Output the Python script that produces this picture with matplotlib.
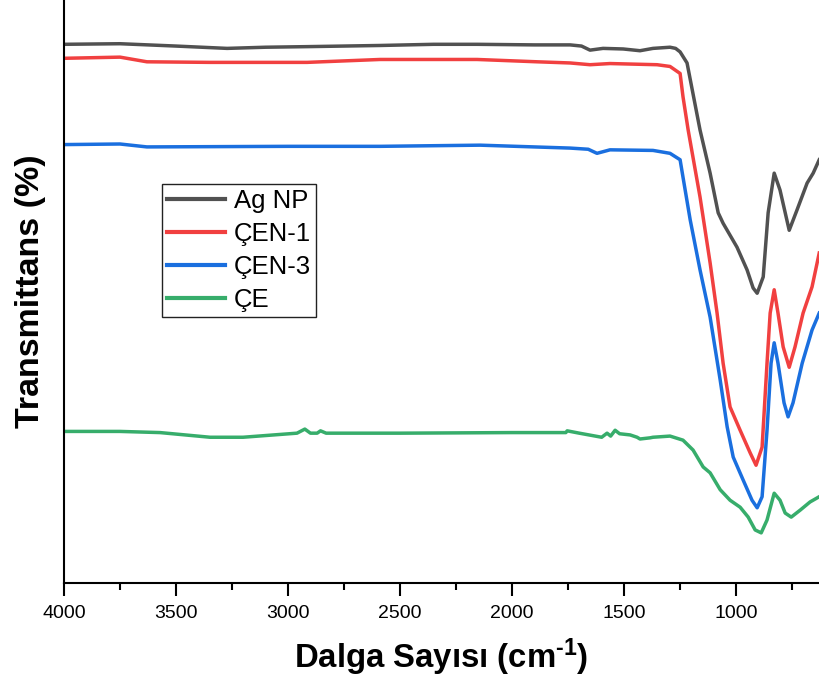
import matplotlib
matplotlib.use("Agg")
import matplotlib.pyplot as plt
from matplotlib.ticker import MultipleLocator

plt.rcParams['font.family'] = ['Liberation Sans', 'DejaVu Sans']
plt.rcParams['mathtext.fontset'] = 'custom'
plt.rcParams['mathtext.rm'] = 'Liberation Sans:bold'
plt.rcParams['mathtext.bf'] = 'Liberation Sans:bold'
plt.rcParams['mathtext.default'] = 'rm'

labels = ["Ag NP", "ÇEN-1", "ÇEN-3", "ÇE"]
colors = ["#515151", "#F14040", "#1A6FDF", "#37AD6B"]

ag_wn = [4000, 3750, 3500, 3272, 3100, 2915, 2589, 2350, 2156, 1900, 1741, 1690, 1652, 1594,
         1504, 1429, 1371, 1295, 1270, 1250, 1219, 1161, 1116, 1080, 1058, 996, 951, 924, 906,
         879, 857, 830, 804, 763, 728, 683, 656, 629]
ag_t = [92.4, 92.5, 92.1, 91.7, 91.9, 92.0, 92.2, 92.4, 92.4, 92.3, 92.3, 92.1, 91.4, 91.7,
        91.6, 91.3, 91.7, 91.9, 91.7, 91.1, 89.2, 77.7, 70.3, 63.5, 61.7, 57.6, 53.7, 50.6, 49.7,
        52.5, 63.5, 70.3, 67.4, 60.5, 64.0, 68.6, 70.3, 72.6]

cen1_wn = [4000, 3750, 3630, 3348, 2915, 2589, 2156, 1888, 1741, 1652, 1563, 1353, 1295, 1250,
           1237, 1214, 1161, 1116, 1085, 1058, 1027, 982, 937, 911, 884, 862, 848, 830, 813,
           790, 763, 737, 701, 661, 629]
cen1_t = [90.0, 90.2, 89.4, 89.3, 89.3, 89.8, 89.8, 89.4, 89.2, 88.9, 89.1, 88.9, 88.6, 87.4,
          83.4, 77.7, 66.2, 54.9, 46.3, 37.7, 30.2, 26.2, 22.3, 20.2, 23.3, 37.7, 46.3, 50.3, 46.3,
          40.5, 37.0, 40.5, 46.3, 50.8, 56.6]

cen3_wn = [4000, 3750, 3630, 3000, 2589, 2143, 1741, 1660, 1621, 1563, 1371, 1295, 1250, 1237,
           1205, 1161, 1116, 1071, 1040, 1013, 969, 929, 906, 884, 862, 844, 830, 813, 786, 768,
           746, 705, 661, 629]
cen3_t = [75.2, 75.3, 74.8, 74.9, 74.9, 75.1, 74.6, 74.4, 73.7, 74.3, 74.2, 73.7, 72.6, 69.6,
          62.3, 53.7, 45.6, 34.8, 26.8, 21.6, 17.7, 14.2, 12.9, 14.8, 26.2, 37.7, 41.2, 37.7, 30.9, 28.5,
          30.9, 37.7, 43.4, 46.3]

ce_wn = [4000, 3750, 3571, 3348, 3201, 2960, 2925, 2900, 2870, 2855, 2830, 2500, 2000, 1760,
         1754, 1700, 1600, 1576, 1560, 1540, 1520, 1473, 1442, 1429, 1384, 1371, 1295, 1237, 1192,
         1147, 1116, 1071, 1027, 982, 946, 915, 888, 862, 830, 804, 781, 754, 714, 670, 629]
ce_t = [26.0, 26.0, 25.8, 25.0, 25.0, 25.7, 26.4, 25.7, 25.7, 26.1, 25.7, 25.7, 25.8, 25.8,
        26.1, 25.7, 25.0, 25.7, 25.2, 26.2, 25.6, 25.4, 25.0, 24.7, 24.9, 25.0, 25.2, 24.5, 22.8,
        19.9, 18.9, 16.0, 14.2, 13.0, 11.3, 9.1, 8.6, 10.8, 15.4, 14.2, 12.0, 11.3, 12.5, 13.9, 14.8]

series = [(ag_wn, ag_t), (cen1_wn, cen1_t), (cen3_wn, cen3_t), (ce_wn, ce_t)]

fig = plt.figure(figsize=(8.19, 6.81), dpi=100)
ax = fig.add_axes([64 / 819, 98 / 681, 1 - 64 / 819, 1 - 98 / 681])

for (wn, t), lab, col in zip(series, labels, colors):
    ax.plot(wn, t, color=col, lw=2.5, label=lab, solid_joinstyle='round')

ax.set_xlim(4000, 630)
ax.set_ylim(0, 100)
ax.spines['top'].set_visible(False)
ax.spines['right'].set_visible(False)
for s in ('left', 'bottom'):
    ax.spines[s].set_linewidth(1.5)
ax.set_yticks([])
ax.xaxis.set_major_locator(MultipleLocator(500))
ax.xaxis.set_minor_locator(MultipleLocator(250))
ax.tick_params(axis='x', which='major', direction='out', length=9, width=1.5, labelsize=14, pad=7)
ax.tick_params(axis='x', which='minor', direction='out', length=5, width=1.5)

ax.set_xlabel(r"Dalga Sayısı (cm$^{\text{-1}}$)", fontsize=23.7, fontweight='bold', labelpad=10)
ax.set_ylabel("Transmittans (%)", fontsize=24.5, fontweight='bold', labelpad=13)

leg = ax.legend(loc='upper left', bbox_to_anchor=(0.130, 0.684), borderaxespad=0,
                fontsize=18.5, frameon=True, fancybox=False, framealpha=1,
                handlelength=2.25, handletextpad=0.35, labelspacing=0.34, borderpad=0.2)
leg.get_frame().set_edgecolor('#222222')
leg.get_frame().set_linewidth(1.0)
for h in leg.get_lines():
    h.set_linewidth(3)

fig.savefig("out.png", dpi=100)
